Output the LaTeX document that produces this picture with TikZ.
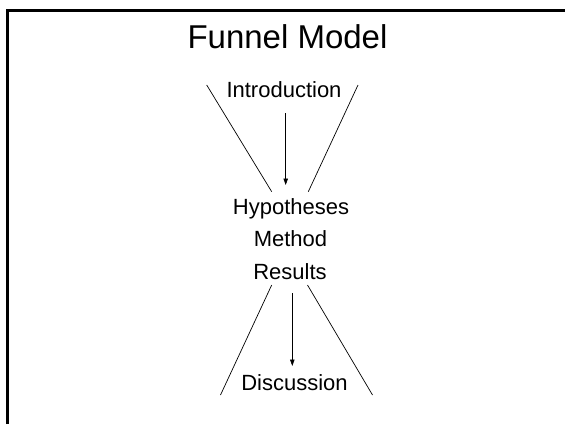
\documentclass[tikz,border=0pt]{standalone}
\usepackage{fontspec}
\setmainfont{Liberation Sans}
\usetikzlibrary{arrows.meta}
\begin{document}
\begin{tikzpicture}[x=1pt,y=-1pt,
  label text/.style={anchor=base, inner sep=0pt, font=\fontsize{22}{26}\selectfont},
  title text/.style={anchor=base, inner sep=0pt, font=\fontsize{33}{38}\selectfont},
  funnel line/.style={line width=0.7pt},
  flow arrow/.style={line width=0.7pt, -{Triangle[length=6.5pt,width=4.5pt]}},
  frame line/.style={line width=3pt}]
  \useasboundingbox (0,0) rectangle (565,424);

  % slide frame (only top and left edges fall inside the page)
  \draw[frame line] (7,424) -- (7,10) -- (565,10);

  % title
  \node[title text] (title) at (287.5,48.3) {Funnel Model};

  % stages
  \node[label text] (intro) at (284,97.7) {Introduction};
  \node[label text] (hyp)   at (291,214.3) {Hypotheses};
  \node[label text] (meth)  at (290.5,246.7) {Method};
  \node[label text] (res)   at (290,279) {Results};
  \node[label text] (disc)  at (294.5,390) {Discussion};

  % upper funnel narrowing towards the centre
  \coordinate (ul1) at (206.7,85);
  \coordinate (ul2) at (271.7,191.7);
  \coordinate (ur1) at (358,85);
  \coordinate (ur2) at (308.3,191.7);
  \draw[funnel line] (ul1) -- (ul2);
  \draw[funnel line] (ur1) -- (ur2);

  % lower funnel widening again
  \coordinate (ll1) at (271.7,285);
  \coordinate (ll2) at (220.5,395);
  \coordinate (lr1) at (307.5,285);
  \coordinate (lr2) at (372.5,395);
  \draw[funnel line] (ll1) -- (ll2);
  \draw[funnel line] (lr1) -- (lr2);

  % flow arrows
  \coordinate (a1) at (285.7,113);
  \coordinate (a2) at (285.7,185);
  \coordinate (b1) at (292.3,293);
  \coordinate (b2) at (292.3,366);
  \draw[flow arrow] (a1) -- (a2);
  \draw[flow arrow] (b1) -- (b2);
\end{tikzpicture}
\end{document}
